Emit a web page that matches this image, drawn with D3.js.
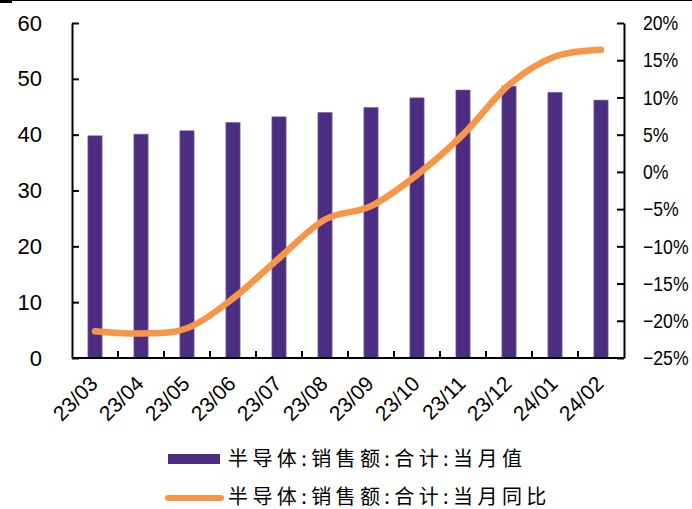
<!DOCTYPE html>
<html>
<head>
<meta charset="utf-8">
<script src="https://cdn.jsdelivr.net/npm/d3@7"></script>
<style>
  html, body { margin: 0; padding: 0; background: #fff; }
  svg { display: block; }
  text { font-family: "Liberation Sans", Arial, sans-serif; fill: #000; }
  .cjk { font-family: "Noto Sans CJK SC", sans-serif; }
</style>
</head>
<body>
<svg id="chart" width="692" height="509"></svg>
<script>
// Monthly semiconductor sales (left axis) and year-on-year change (right axis)
const months = ["23/03", "23/04", "23/05", "23/06", "23/07", "23/08",
                "23/09", "23/10", "23/11", "23/12", "24/01", "24/02"];
const salesValue = [39.8, 40.1, 40.7, 42.2, 43.2, 44.0, 44.9, 46.6, 48.0, 48.7, 47.6, 46.2];
const salesYoY = [-21.4, -21.7, -21.0, -17.0, -11.6, -6.4, -4.6, -0.4, 5.0, 11.7, 15.5, 16.4];
const leftTicks = [0, 10, 20, 30, 40, 50, 60];
const rightTicks = [-25, -20, -15, -10, -5, 0, 5, 10, 15, 20];
const legendLabels = ["半导体:销售额:合计:当月值", "半导体:销售额:合计:当月同比"];

const barColor = "#4D2D81";
const lineColor = "#F79646";

const svg = d3.select("#chart");
const plot = { left: 72, right: 624, top: 23, bottom: 358 };

const x = d3.scaleBand().domain(months).range([plot.left, plot.right]).paddingInner(0.69).paddingOuter(0.345);
const xBand = d3.scaleBand().domain(months).range([plot.left, plot.right]);
const yL = d3.scaleLinear().domain([0, 60]).range([plot.bottom, plot.top]);
const yR = d3.scaleLinear().domain([-25, 20]).range([plot.bottom, plot.top]);

// frame line along the top edge
svg.append("line").attr("x1", 0).attr("x2", 692).attr("y1", 0.5).attr("y2", 0.5)
  .attr("stroke", "#000").attr("stroke-width", 1);
svg.append("rect").attr("x", 0).attr("y", 0).attr("width", 12).attr("height", 3).attr("fill", "#000");

// bars
svg.append("g").selectAll("rect").data(salesValue).join("rect")
  .attr("x", (d, i) => x(months[i]))
  .attr("y", d => yL(d))
  .attr("width", x.bandwidth())
  .attr("height", d => yL(0) - yL(d))
  .attr("fill", barColor)
  .attr("stroke", "#8C79B3")
  .attr("stroke-width", 0.6);

// left axis
const gL = svg.append("g").attr("transform", `translate(${plot.left},0)`)
  .call(d3.axisLeft(yL).tickValues(leftTicks).tickSizeInner(-7).tickSizeOuter(0).tickPadding(30));
gL.selectAll("text").style("font-size", "22px");

// right axis
const gR = svg.append("g").attr("transform", `translate(${plot.right},0)`)
  .call(d3.axisRight(yR).tickValues(rightTicks).tickSizeInner(-7).tickSizeOuter(0)
    .tickFormat(d => d3.format("d")(d) + "%"));
gR.selectAll("text")
  .attr("x", 0)
  .attr("transform", "translate(19,0) scale(0.84,1)")
  .style("font-size", "21px");

// bottom axis: ticks sit between the months and point inward
const gB = svg.append("g").attr("transform", `translate(0,${plot.bottom})`);
gB.append("line").attr("x1", plot.left).attr("x2", plot.right).attr("stroke", "#000");
gB.selectAll(".tk").data(months.slice(1)).join("line").attr("class", "tk")
  .attr("x1", d => xBand(d)).attr("x2", d => xBand(d))
  .attr("y1", 0).attr("y2", -7).attr("stroke", "#000");
gB.selectAll(".lbl").data(months).join("text").attr("class", "lbl")
  .attr("text-anchor", "end")
  .attr("transform", d => `translate(${xBand(d) + xBand.bandwidth() / 2 + 4},${27}) rotate(-45)`)
  .style("font-size", "21px")
  .text(d => d);

[gL, gR].forEach(g => {
  g.select(".domain").attr("stroke", "#000").attr("stroke-width", 2);
  g.selectAll(".tick line").attr("stroke", "#000").attr("stroke-width", 2);
});
gB.selectAll("line").attr("stroke-width", 2);

// YoY line
const line = d3.line()
  .x((d, i) => xBand(months[i]) + xBand.bandwidth() / 2)
  .y(d => yR(d))
  .curve(d3.curveCardinal.tension(0));
svg.append("path").datum(salesYoY)
  .attr("d", line)
  .attr("fill", "none")
  .attr("stroke", lineColor)
  .attr("stroke-width", 6.5)
  .attr("stroke-linecap", "round");

// legend
const leg = svg.append("g");
leg.append("rect").attr("x", 168).attr("y", 454).attr("width", 52).attr("height", 10).attr("fill", barColor);
leg.append("line").attr("x1", 168).attr("x2", 221).attr("y1", 498).attr("y2", 498)
  .attr("stroke", lineColor).attr("stroke-width", 6).attr("stroke-linecap", "round");
leg.selectAll("text").data(legendLabels).join("text")
  .attr("class", "cjk")
  .attr("x", 228)
  .attr("y", (d, i) => 466 + i * 38)
  .style("font-size", "20px")
  .style("letter-spacing", "4.4px")
  .text(d => d);
</script>
</body>
</html>
